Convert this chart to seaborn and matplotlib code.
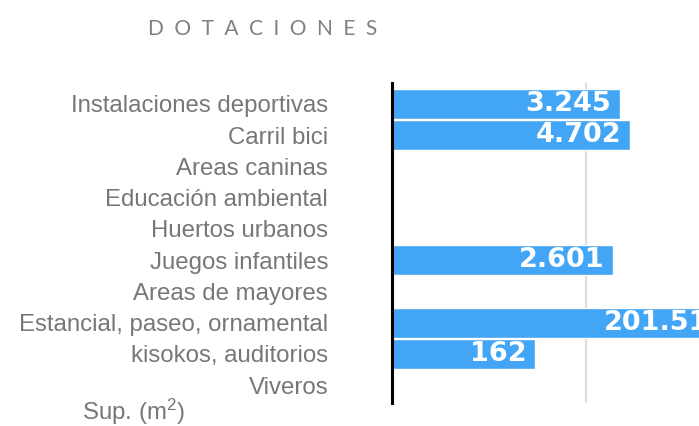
import numpy as np
import pandas as pd
import matplotlib
matplotlib.use("Agg")
import matplotlib.pyplot as plt
import matplotlib.ticker as mticker
import seaborn as sns

categories = ["Instalaciones deportivas", "Carril bici", "Areas caninas",
              "Educación ambiental", "Huertos urbanos", "Juegos infantiles",
              "Areas de mayores", "Estancial, paseo, ornamental",
              "kisokos, auditorios", "Viveros"]
values = [3245, 4702, np.nan, np.nan, np.nan, 2601, np.nan, 201513, 162, np.nan]
value_labels = ["3.245", "4.702", "", "", "", "2.601", "", "201.513", "162", ""]
title = "DOTACIONES"

sns.set_theme(style="white")
plt.rcParams["font.family"] = ["Liberation Sans", "DejaVu Sans"]
plt.rcParams["mathtext.fontset"] = "custom"
plt.rcParams["mathtext.rm"] = "Liberation Sans"
plt.rcParams["mathtext.it"] = "Liberation Sans"

W, H = 699, 426
fig = plt.figure(figsize=(W / 100, H / 100), dpi=100)
px_per_decade = 64.8
ax = fig.add_axes([392 / W, (H - 403) / H, 6 * px_per_decade / W, 320 / H])

df = pd.DataFrame({"cat": categories, "val": values})
sns.barplot(data=df, x="val", y="cat", order=categories, orient="h",
            color="#42A5F5", saturation=1, width=0.95, ax=ax, errorbar=None)
ax.set_xscale("log")
ax.set_xlim(1, 1e6)
ax.set_ylim(9.57, -0.67)

ax.set_xticks([1000])
ax.xaxis.set_minor_locator(mticker.NullLocator())
ax.set_xticklabels([])
ax.tick_params(axis="x", length=0)
ax.xaxis.grid(True, color="#dcdcdc", lw=1.5)
ax.set_axisbelow(True)
for s in ["top", "right", "bottom"]:
    ax.spines[s].set_visible(False)
ax.spines["left"].set_color("black")
ax.spines["left"].set_linewidth(2.2)
ax.set_xlabel("")
ax.set_ylabel("")
ax.tick_params(axis="y", length=0, pad=46, labelsize=17.3, labelcolor="#777777")

for i, (v, lab) in enumerate(zip(values, value_labels)):
    if not np.isnan(v):
        ax.annotate(lab, xy=(v, i), xytext=(-6, 0), textcoords="offset points",
                    ha="right", va="center", color="white", fontsize=19.5,
                    fontweight="bold", family=["DejaVu Sans"])

fig.text(148 / W, 1 - 29 / H, "\u2002".join(title), ha="left", va="center",
         fontsize=15, color="#808080", family=["Lato", "DejaVu Sans"],
         fontweight="normal")
fig.text(82 / W, 1 - 412 / H, r"Sup. (m$^{\mathrm{2}}$)", ha="left", va="center",
         fontsize=17.3, color="#777777")

fig.savefig("out.png", dpi=100)
